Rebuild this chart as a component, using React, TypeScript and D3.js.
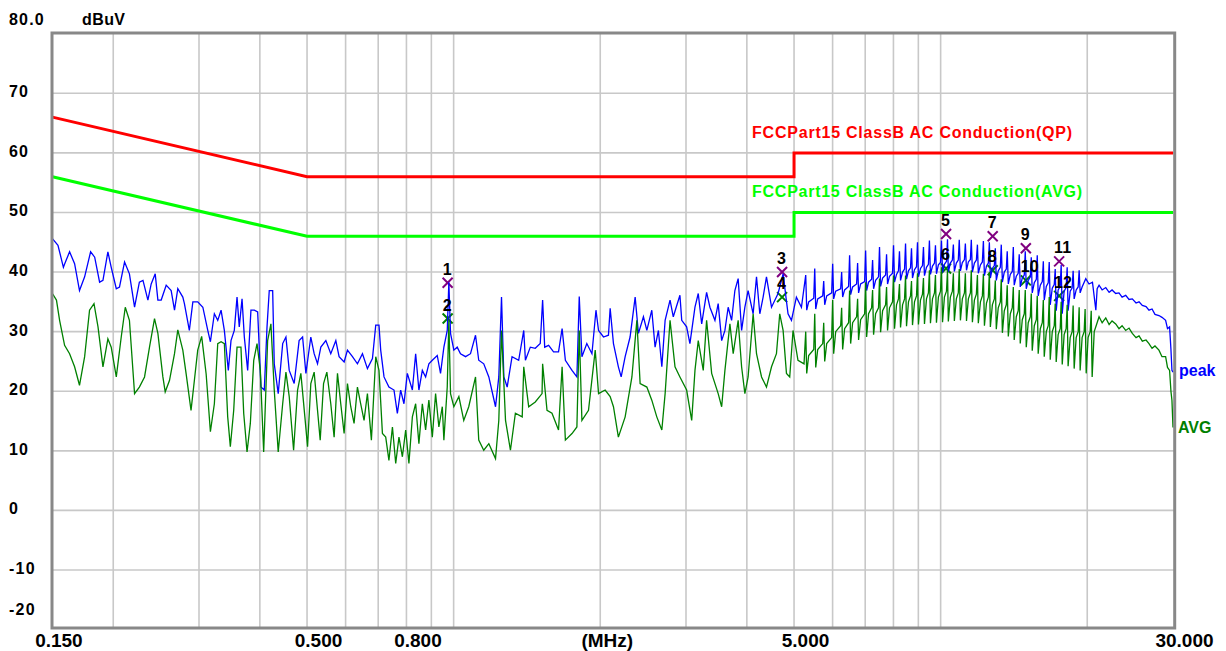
import React from 'react';
import * as d3 from 'd3';

// axis ticks / labels
const yGridValues = [70, 60, 50, 40, 30, 20, 10, 0, -10];
const yLabelValues = [80, 70, 60, 50, 40, 30, 20, 10, 0, -10, -20];
const yLabelTexts = ['80.0', '70', '60', '50', '40', '30', '20', '10', '0', '-10', '-20'];
const xGridValues = [0.2, 0.3, 0.4, 0.5, 0.6, 0.7, 0.8, 0.9, 1, 2, 3, 4, 5, 6, 7, 8, 9, 10, 20];
const xLabelValues = [0.15, 0.5, 0.8, 5, 30];
const xLabelTexts = ['0.150', '0.500', '0.800', '5.000', '30.000'];

// limit lines [MHz, dBuV]
const qpLimit: [number, number][] = [[0.15, 66], [0.5, 56], [5, 56], [5, 60], [30, 60]];
const avgLimit: [number, number][] = [[0.15, 56], [0.5, 46], [5, 46], [5, 50], [30, 50]];

// markers 1..12 (odd = QP/peak, even = AVG)
const markerFreqs = [0.972, 0.972, 4.725, 4.725, 10.26, 10.26, 12.79, 12.79, 14.96, 14.96, 17.51, 17.51];
const markerLevels = [38.2, 32.2, 40.0, 35.8, 46.4, 40.6, 46.0, 40.3, 44.0, 38.6, 41.8, 36.0];

// peak trace [MHz, dBuV]
const peakTrace: [number, number][] = [
  [0.150,45.6],[0.154,44.5],[0.158,40.8],[0.159,41.4],[0.1627,43.4],[0.1666,41.4],[0.1705,36.9],[0.1747,39.2],
  [0.1797,43.4],[0.1832,42.5],[0.1875,38.3],[0.1905,38.6],[0.1950,43.4],[0.1981,40.8],[0.2029,37.2],[0.2060,37.5],
  [0.2110,41.7],[0.2159,39.7],[0.2212,34.1],[0.2263,38.3],[0.2302,38.6],[0.2356,35.3],[0.2393,38.0],[0.2439,39.7],
  [0.2470,35.3],[0.2509,35.3],[0.2569,37.8],[0.2630,36.9],[0.2672,33.6],[0.2714,37.2],[0.2779,35.8],[0.2800,34.7],
  [0.2866,30.2],[0.2914,35.0],[0.2982,35.0],[0.3055,34.1],[0.3127,30.2],[0.3166,28.3],[0.3226,33.0],[0.3278,31.9],
  [0.3330,33.6],[0.3382,30.2],[0.3446,23.5],[0.3490,28.5],[0.3545,30.2],[0.3591,35.8],[0.3629,30.8],[0.3677,35.5],
  [0.3717,29.1],[0.3776,23.5],[0.3835,33.6],[0.3897,33.6],[0.3959,33.3],[0.4021,20.7],[0.4085,20.2],[0.4138,30.8],
  [0.4182,36.9],[0.4250,36.9],[0.4282,24.6],[0.4363,19.6],[0.4456,28.0],[0.4525,29.1],[0.4596,23.5],[0.4705,21.3],
  [0.4816,28.5],[0.4896,29.1],[0.4973,23.0],[0.5090,29.1],[0.5171,26.3],[0.5254,24.6],[0.5337,27.4],[0.5465,28.5],
  [0.5594,26.3],[0.5729,28.5],[0.5818,25.8],[0.5958,24.9],[0.6053,26.9],[0.6198,25.8],[0.6345,24.6],[0.6498,26.3],
  [0.6652,23.8],[0.6812,25.5],[0.6919,31.1],[0.7026,31.1],[0.7083,26.9],[0.7195,22.4],[0.7364,20.7],[0.7543,20.2],
  [0.7663,16.3],[0.7784,20.2],[0.7906,17.9],[0.8033,23.0],[0.8227,20.2],[0.8356,26.3],[0.8485,20.2],[0.8624,23.5],
  [0.8759,22.4],[0.8895,24.6],[0.9041,25.2],[0.9254,26.0],[0.9399,23.0],[0.9549,27.4],[0.9702,30.2],[0.9776,38.3],
  [0.9854,29.7],[1.001,26.9],[1.017,27.4],[1.033,26.3],[1.058,25.8],[1.083,26.3],[1.109,29.4],[1.126,25.2],
  [1.153,24.6],[1.181,22.4],[1.219,17.4],[1.238,22.4],[1.254,35.8],[1.268,22.4],[1.288,20.7],[1.318,25.8],
  [1.360,25.2],[1.393,30.2],[1.404,25.2],[1.437,27.4],[1.471,27.2],[1.506,28.0],[1.523,35.3],[1.538,27.4],
  [1.567,27.7],[1.604,26.6],[1.642,26.6],[1.670,30.5],[1.696,25.2],[1.750,23.5],[1.791,22.4],[1.811,35.9],
  [1.834,25.8],[1.877,28.0],[1.923,26.3],[1.960,33.6],[1.984,30.2],[2.031,29.1],[2.079,29.4],[2.096,33.9],
  [2.129,28.0],[2.179,24.1],[2.208,22.4],[2.250,25.8],[2.303,29.1],[2.359,35.8],[2.396,29.7],[2.453,32.5],
  [2.493,30.2],[2.552,33.6],[2.592,27.4],[2.633,30.2],[2.676,24.1],[2.718,31.9],[2.782,35.3],[2.825,32.5],
  [2.915,36.1],[2.940,31.9],[3.009,30.8],[3.056,28.0],[3.130,34.1],[3.179,36.4],[3.231,31.3],[3.307,36.6],
  [3.359,34.1],[3.440,31.9],[3.493,34.7],[3.551,28.5],[3.606,30.2],[3.662,34.1],[3.722,31.9],[3.780,36.9],
  [3.839,38.9],[3.902,30.2],[3.963,34.1],[4.024,36.9],[4.121,33.0],[4.187,39.2],[4.253,33.0],[4.320,35.8],
  [4.389,39.2],[4.495,34.1],[4.636,36.4],[4.748,39.7],[4.860,33.0],[4.939,31.9],[5.056,35.8],[5.178,34.1],
  // comb region: top, drop, band, band
  [5.284,39.5],[5.309,33.6],[5.358,35.0],[5.488,35.6],
  [5.514,40.6],[5.540,33.8],[5.592,35.5],[5.726,36.0],
  [5.753,38.5],[5.780,34.5],[5.835,36.0],[5.974,36.5],
  [6.002,41.4],[6.030,35.5],[6.088,36.8],[6.233,37.2],
  [6.262,40.0],[6.292,35.8],[6.351,37.0],[6.471,37.6],
  [6.502,42.8],[6.534,36.2],[6.596,37.5],[6.721,38.0],
  [6.753,41.5],[6.784,36.5],[6.850,38.0],[6.981,38.4],
  [7.014,43.6],[7.047,36.9],[7.112,38.3],[7.215,38.8],
  [7.249,42.0],[7.283,37.2],[7.353,38.6],[7.455,39.2],
  [7.490,44.2],[7.528,37.6],[7.600,39.0],[7.708,39.5],
  [7.744,43.0],[7.780,38.0],[7.852,39.3],[7.965,39.8],
  [8.003,44.5],[8.041,38.3],[8.117,39.6],[8.192,40.2],
  [8.231,43.5],[8.273,38.6],[8.352,40.0],[8.431,40.5],
  [8.471,44.8],[8.510,38.8],[8.589,40.2],[8.672,40.7],
  [8.713,44.0],[8.754,39.0],[8.837,40.4],[8.921,40.9],
  [8.963,45.0],[9.003,39.2],[9.091,40.6],[9.177,41.1],
  [9.220,44.2],[9.264,39.4],[9.352,40.8],[9.438,41.3],
  [9.483,45.3],[9.530,39.6],[9.621,41.0],[9.712,41.5],
  [9.758,44.5],[9.804,39.7],[9.894,41.2],[9.993,41.6],
  [10.04,45.3],[10.09,39.9],[10.18,41.3],[10.28,41.8],
  [10.33,45.5],[10.37,40.0],[10.47,41.5],[10.57,42.0],
  [10.62,44.6],[10.67,40.1],[10.77,41.5],[10.87,42.0],
  [10.92,45.4],[10.98,40.2],[11.08,41.6],[11.19,42.1],
  [11.24,44.8],[11.30,40.3],[11.40,41.7],[11.51,42.1],
  [11.56,45.4],[11.62,40.0],[11.73,41.5],[11.84,42.0],
  [11.90,44.6],[11.95,39.8],[12.07,41.2],[12.18,41.7],
  [12.24,45.2],[12.30,39.4],[12.42,41.0],[12.53,41.5],
  [12.59,45.0],[12.65,39.0],[12.77,40.6],[12.89,41.1],
  [12.95,44.0],[13.01,38.6],[13.13,40.2],[13.26,40.8],
  [13.32,44.6],[13.39,38.3],[13.51,40.0],[13.64,40.5],
  [13.70,43.5],[13.77,38.0],[13.90,39.6],[14.03,40.1],
  [14.10,44.2],[14.16,37.8],[14.30,39.3],[14.43,39.8],
  [14.50,43.0],[14.57,37.5],[14.71,39.0],[14.85,39.5],
  [14.92,43.5],[14.99,37.2],[15.13,38.6],[15.28,39.2],
  [15.35,42.5],[15.42,36.5],[15.57,38.2],[15.72,38.8],
  [15.79,42.8],[15.86,36.0],[16.02,37.8],[16.17,38.4],
  [16.25,41.8],[16.32,35.3],[16.48,37.6],[16.63,38.2],
  [16.71,41.7],[16.79,34.5],[16.95,37.3],[17.11,37.9],
  [17.19,40.5],[17.27,33.5],[17.43,37.0],[17.60,37.6],
  [17.68,41.2],[17.77,33.0],[17.93,36.8],[18.10,37.4],
  [18.19,40.8],[18.27,33.5],[18.45,36.8],[18.62,37.3],
  [18.71,40.2],[18.80,35.5],[18.98,37.0],[19.16,37.5],
  [19.25,40.3],[19.34,36.5],[19.52,37.5],
  // smooth roll-off
  [19.86,38.9],[20.17,38.0],[20.50,38.3],[20.83,33.6],[20.96,37.2],[21.15,37.8],
  [21.46,37.0],[21.83,37.4],[22.18,36.6],[22.49,37.0],[22.88,36.4],[23.24,36.5],[23.58,35.8],[23.99,36.1],[24.37,35.4],
  [24.75,35.5],[25.19,34.8],[25.55,35.0],[25.95,34.4],[26.41,34.2],[26.78,33.6],[27.17,33.8],[27.55,32.9],[28.07,32.7],
  [28.48,32.4],[28.97,31.9],[29.23,30.5],[29.52,30.8],[29.71,27.0],[29.85,23.5],[30.0,23.2],
];

// average trace [MHz, dBuV]
const avgTrace: [number, number][] = [
  [0.150,36.4],[0.1529,35.3],[0.1552,31.9],[0.1589,27.7],[0.1627,26.3],[0.1666,24.1],[0.1705,21.0],[0.1747,25.8],
  [0.1788,33.6],[0.1826,34.7],[0.1861,30.8],[0.1905,24.1],[0.1950,28.8],[0.1981,27.4],[0.2029,22.4],[0.2077,29.1],
  [0.2117,34.1],[0.2159,31.9],[0.2212,19.6],[0.2263,20.7],[0.2319,22.4],[0.2374,27.4],[0.2431,32.2],[0.2470,29.7],
  [0.2529,22.4],[0.2557,19.9],[0.2609,21.8],[0.2672,26.3],[0.2714,30.3],[0.2779,26.9],[0.2823,22.9],[0.2889,16.8],
  [0.2935,21.8],[0.2982,26.9],[0.3038,29.2],[0.3103,22.9],[0.3166,13.2],[0.3226,17.9],[0.3278,28.0],[0.3330,28.3],
  [0.3382,28.0],[0.3436,15.7],[0.3479,10.7],[0.3535,16.8],[0.3591,27.4],[0.3658,27.4],[0.3706,16.3],[0.3765,9.8],
  [0.3824,14.6],[0.3886,25.2],[0.3947,28.0],[0.4009,23.5],[0.4073,9.8],[0.4150,28.5],[0.4215,31.3],[0.4282,20.2],
  [0.4363,9.8],[0.4456,17.9],[0.4525,23.2],[0.4596,19.1],[0.4692,10.1],[0.4781,20.2],[0.4856,23.0],[0.4949,15.7],
  [0.5012,10.7],[0.5090,21.3],[0.5171,23.2],[0.5254,16.8],[0.5321,11.8],[0.5406,21.3],[0.5491,23.2],[0.5594,17.9],
  [0.5683,12.3],[0.5774,23.0],[0.5864,17.9],[0.5958,12.9],[0.6053,21.3],[0.6148,17.4],[0.6245,14.6],[0.6345,20.7],
  [0.6444,17.9],[0.6547,15.1],[0.6652,19.6],[0.6778,11.8],[0.6919,25.8],[0.7026,23.5],[0.7141,12.9],[0.7253,12.3],
  [0.7364,8.4],[0.7487,14.0],[0.7604,7.9],[0.7722,12.3],[0.7848,9.0],[0.7971,13.5],[0.8094,7.9],[0.8227,15.7],
  [0.8356,17.9],[0.8485,11.2],[0.8624,17.9],[0.8759,13.5],[0.8895,18.5],[0.9041,12.3],[0.9182,19.6],[0.9325,14.0],
  [0.9478,17.4],[0.9549,11.8],[0.9702,20.7],[0.9776,31.9],[0.9854,19.6],[1.001,17.4],[1.025,19.1],[1.049,15.1],
  [1.074,17.4],[1.109,22.4],[1.126,11.8],[1.153,10.1],[1.181,11.2],[1.219,8.7],[1.238,15.1],[1.254,30.2],
  [1.278,15.1],[1.308,10.1],[1.339,16.3],[1.383,15.7],[1.393,24.1],[1.426,17.4],[1.471,18.2],[1.519,19.6],
  [1.523,24.6],[1.555,16.8],[1.592,16.3],[1.642,13.5],[1.670,24.1],[1.696,11.8],[1.750,12.9],[1.791,14.0],
  [1.811,30.2],[1.834,15.1],[1.892,16.8],[1.953,26.9],[1.984,19.6],[2.047,20.2],[2.096,19.1],[2.129,17.4],
  [2.179,12.3],[2.250,15.7],[2.323,22.4],[2.378,31.9],[2.415,21.3],[2.493,20.7],[2.552,18.5],[2.613,15.7],
  [2.676,13.5],[2.718,19.6],[2.782,31.9],[2.848,24.1],[2.915,22.4],[3.009,20.2],[3.082,15.1],[3.130,23.5],
  [3.179,28.5],[3.255,23.5],[3.307,31.9],[3.387,23.0],[3.493,19.6],[3.551,17.4],[3.606,23.5],[3.692,31.3],
  [3.750,26.3],[3.839,31.9],[3.902,24.1],[3.963,19.6],[4.024,22.4],[4.121,33.0],[4.187,26.3],[4.288,22.4],
  [4.389,20.7],[4.495,24.1],[4.601,26.3],[4.673,33.0],[4.748,30.2],[4.824,23.0],[4.899,22.4],[4.976,30.2],
  [5.094,25.2],[5.242,24.6],
  // comb region: top, drop, band, band
  [5.284,30.0],[5.309,23.0],[5.358,26.0],[5.488,27.0],
  [5.514,33.0],[5.540,24.0],[5.592,27.0],[5.726,28.0],
  [5.753,31.5],[5.780,25.0],[5.835,28.0],[5.974,29.0],
  [6.002,35.3],[6.030,26.3],[6.088,30.0],[6.233,31.0],
  [6.262,34.0],[6.292,27.0],[6.351,30.5],[6.471,31.5],
  [6.502,36.9],[6.534,28.0],[6.596,31.5],[6.721,32.5],
  [6.753,35.5],[6.784,28.6],[6.850,32.0],[6.981,33.0],
  [7.014,38.3],[7.047,29.1],[7.112,33.0],[7.215,34.0],
  [7.249,37.0],[7.283,29.5],[7.353,33.0],[7.455,34.0],
  [7.490,38.9],[7.528,29.9],[7.600,33.5],[7.708,34.5],
  [7.744,37.5],[7.780,30.2],[7.852,34.0],[7.965,35.0],
  [8.003,39.4],[8.041,30.5],[8.117,34.5],[8.192,35.5],
  [8.231,38.0],[8.273,30.7],[8.352,34.5],[8.431,35.5],
  [8.471,39.4],[8.510,30.9],[8.589,35.0],[8.672,36.0],
  [8.713,38.5],[8.754,31.1],[8.837,35.0],[8.921,36.0],
  [8.963,39.8],[9.003,31.2],[9.091,35.3],[9.177,36.3],
  [9.220,39.0],[9.264,31.3],[9.352,35.5],[9.438,36.5],
  [9.483,40.3],[9.530,31.4],[9.621,35.5],[9.712,36.5],
  [9.758,39.5],[9.804,31.5],[9.894,35.8],[9.993,36.8],
  [10.04,40.8],[10.09,31.6],[10.18,35.8],[10.28,36.8],
  [10.33,40.3],[10.37,31.7],[10.47,35.8],[10.57,36.8],
  [10.62,39.8],[10.67,31.8],[10.77,35.5],[10.87,36.5],
  [10.92,40.5],[10.98,31.9],[11.08,35.5],[11.19,36.5],
  [11.24,39.8],[11.30,31.8],[11.40,35.5],[11.51,36.5],
  [11.56,40.3],[11.62,31.6],[11.73,35.3],[11.84,36.3],
  [11.90,39.5],[11.95,31.4],[12.07,35.0],[12.18,36.0],
  [12.24,39.7],[12.30,31.0],[12.42,34.8],[12.53,35.8],
  [12.59,40.0],[12.65,30.8],[12.77,34.5],[12.89,35.5],
  [12.95,38.6],[13.01,30.4],[13.13,34.0],[13.26,35.0],
  [13.32,38.8],[13.39,29.8],[13.51,33.5],[13.64,34.5],
  [13.70,37.8],[13.77,29.2],[13.90,33.0],[14.03,34.0],
  [14.10,37.5],[14.16,28.6],[14.30,32.5],[14.43,33.5],
  [14.50,37.0],[14.57,28.0],[14.71,32.0],[14.85,33.0],
  [14.92,37.0],[14.99,27.4],[15.13,31.5],[15.28,32.5],
  [15.35,36.4],[15.42,26.8],[15.57,31.0],[15.72,32.0],
  [15.79,36.0],[15.86,26.3],[16.02,30.5],[16.17,31.5],
  [16.25,35.3],[16.32,25.8],[16.48,30.0],[16.63,31.0],
  [16.71,35.8],[16.79,25.3],[16.95,30.0],[17.11,31.0],
  [17.19,34.7],[17.27,24.9],[17.43,29.5],[17.60,30.5],
  [17.68,35.0],[17.77,24.5],[17.93,29.5],[18.10,30.5],
  [18.19,34.5],[18.27,24.2],[18.45,29.0],[18.62,30.0],
  [18.71,34.4],[18.80,23.8],[18.98,29.0],[19.16,30.0],
  [19.25,34.1],[19.34,23.5],[19.52,29.0],[19.71,30.0],
  [19.80,33.8],[19.90,23.0],[20.08,29.0],[20.28,30.0],
  [20.38,33.5],[20.47,22.4],[20.67,30.0],
  // smooth roll-off
  [20.86,31.0],[21.15,32.5],[21.46,31.5],[21.83,32.3],[22.18,31.2],[22.49,31.8],[22.88,31.3],[23.24,30.5],[23.58,31.0],
  [23.99,30.2],[24.37,30.6],[24.75,29.7],[25.19,29.0],[25.55,29.3],[25.95,28.4],[26.41,28.6],[26.78,28.0],[27.17,27.2],
  [27.55,27.6],[28.07,26.9],[28.48,25.8],[28.97,25.8],[29.23,24.0],[29.52,23.5],[29.71,20.0],[29.85,18.5],[30.0,13.9],
];

const FONT = '"Liberation Sans", Arial, sans-serif';

export default function App() {
  const width = 1226;
  const height = 651;

  const x = d3.scaleLog().domain([0.15, 30]).range([52.4, 1173]);
  const y = d3.scaleLinear().domain([-20, 80]).range([629.6, 33.7]);

  const line = d3.line<[number, number]>()
    .x(d => x(d[0]))
    .y(d => y(d[1]));

  const xLabelShift = (v: number) => (v === 0.15 ? 6.5 : 11.5);
  const yLabelBase = (v: number) => {
    if (v === 80) return y(v) - 8.5;
    if (v === -20) return y(v) - 14.5;
    return y(v) + 4;
  };

  const peakEnd = peakTrace[peakTrace.length - 1];
  const avgEnd = avgTrace[avgTrace.length - 1];

  return (
    <div style={{ position: 'absolute', left: 0, top: 0 }}>
      <svg width={width} height={height} style={{ display: 'block', background: '#fff' }}>
        {/* grid */}
        <g stroke="#c8c8c8" strokeWidth={1.6}>
          {yGridValues.map(v => (
            <line key={'h' + v} x1={52} x2={1174} y1={y(v)} y2={y(v)} />
          ))}
          {xGridValues.map(v => (
            <line key={'v' + v} x1={x(v)} x2={x(v)} y1={33} y2={628} />
          ))}
        </g>

        {/* limit lines */}
        <path d={line(qpLimit) || ''} fill="none" stroke="#ff0000" strokeWidth={3} />
        <path d={line(avgLimit) || ''} fill="none" stroke="#00ff00" strokeWidth={3} />
        <text x={x(4.1)} y={y(60) - 15} fill="#ff0000" fontFamily={FONT} fontWeight="bold" fontSize={16}
          textLength={320} lengthAdjust="spacing">FCCPart15 ClassB AC Conduction(QP)</text>
        <text x={x(4.1)} y={y(50) - 15} fill="#00ff00" fontFamily={FONT} fontWeight="bold" fontSize={16}
          textLength={330} lengthAdjust="spacing">FCCPart15 ClassB AC Conduction(AVG)</text>

        {/* markers */}
        {markerFreqs.map((f, i) => {
          const cx = x(f);
          const cy = y(markerLevels[i]);
          const c = i % 2 === 0 ? '#800080' : '#008000';
          return (
            <g key={'m' + i} stroke={c} strokeWidth={2}>
              <line x1={cx - 5} y1={cy - 5} x2={cx + 5} y2={cy + 5} />
              <line x1={cx - 5} y1={cy + 5} x2={cx + 5} y2={cy - 5} />
            </g>
          );
        })}

        {/* traces */}
        <path d={line(peakTrace) || ''} fill="none" stroke="#0000ff" strokeWidth={1.3} />
        <path d={line(avgTrace) || ''} fill="none" stroke="#008000" strokeWidth={1.3} />

        {/* marker numbers */}
        {markerFreqs.map((f, i) => (
          <text key={'ml' + i} x={x(f) - 5} y={y(markerLevels[i]) - 8} fill="#000" fontFamily={FONT}
            fontWeight="bold" fontSize={16}>{i + 1}</text>
        ))}

        {/* trace names */}
        <text x={x(30) + 6} y={y(peakEnd[1]) + 4} fill="#0000ff" fontFamily={FONT} fontWeight="bold" fontSize={16}>peak</text>
        <text x={x(30) + 5} y={y(avgEnd[1]) + 5} fill="#008000" fontFamily={FONT} fontWeight="bold" fontSize={16}>AVG</text>

        {/* frame */}
        <rect x={52} y={33} width={1122.7} height={595} fill="none" stroke="#888888" strokeWidth={3} />

        {/* y axis labels */}
        {yLabelValues.map((v, i) => (
          <text key={'yl' + v} x={9} y={yLabelBase(v)} fill="#000" fontFamily={FONT} fontWeight="bold"
            fontSize={16} letterSpacing={1.2}>{yLabelTexts[i]}</text>
        ))}
        <text x={82} y={y(80) - 8.5} fill="#000" fontFamily={FONT} fontWeight="bold" fontSize={16} letterSpacing={0.4}>dBuV</text>

        {/* x axis labels */}
        {xLabelValues.map((v, i) => (
          <text key={'xl' + v} x={x(v) + xLabelShift(v)} y={646.5} textAnchor="middle" fill="#000"
            fontFamily={FONT} fontWeight="bold" fontSize={19}>{xLabelTexts[i]}</text>
        ))}
        <text x={x(2) + 7} y={646.5} textAnchor="middle" fill="#000" fontFamily={FONT} fontWeight="bold" fontSize={19}>(MHz)</text>
      </svg>
    </div>
  );
}
